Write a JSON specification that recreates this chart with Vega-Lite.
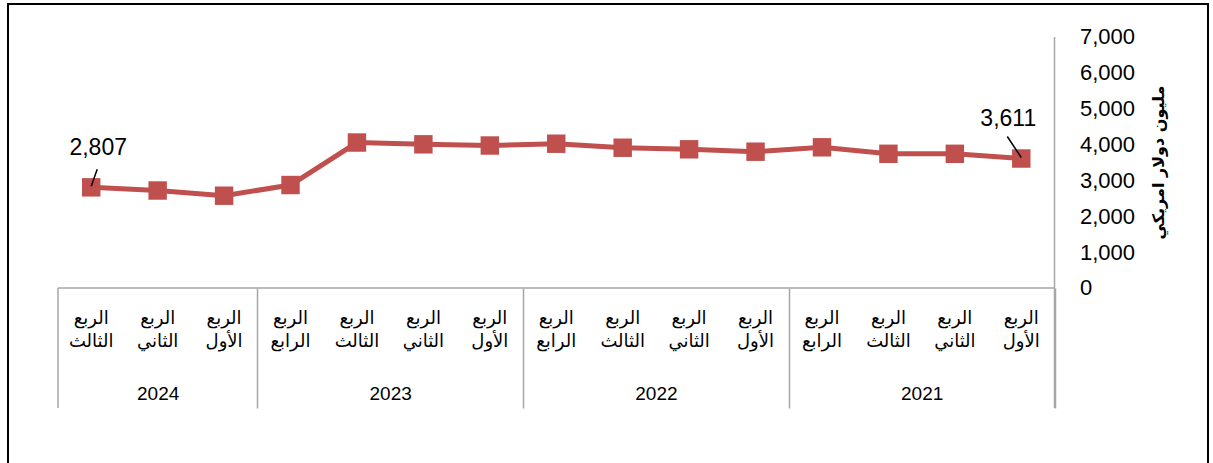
{
  "$schema": "https://vega.github.io/schema/vega-lite/v6.json",
  "width": 1200,
  "height": 466,
  "autosize": {"type": "none"},
  "padding": {"left": 8, "top": 4, "right": 5, "bottom": 0},
  "background": "white",
  "config": {
    "view": {"stroke": "black", "strokeWidth": 2},
    "font": "Liberation Sans"
  },
  "data": {
    "values": [
      {"k": "2024|الثالث", "value": 2807},
      {"k": "2024|الثاني", "value": 2719},
      {"k": "2024|الأول", "value": 2574},
      {"k": "2023|الرابع", "value": 2872},
      {"k": "2023|الثالث", "value": 4057},
      {"k": "2023|الثاني", "value": 4007},
      {"k": "2023|الأول", "value": 3974},
      {"k": "2022|الرابع", "value": 4024},
      {"k": "2022|الثالث", "value": 3912},
      {"k": "2022|الثاني", "value": 3868},
      {"k": "2022|الأول", "value": 3801},
      {"k": "2021|الرابع", "value": 3924},
      {"k": "2021|الثالث", "value": 3742},
      {"k": "2021|الثاني", "value": 3742},
      {"k": "2021|الأول", "value": 3611}
    ]
  },
  "layer": [
    {
      "data": {"values": [{}]},
      "mark": {"type": "rule", "color": "#A6A6A6", "strokeWidth": 1.5},
      "encoding": {
        "x": {"datum": "2024|الثالث", "type": "nominal", "bandPosition": 0, "axis": null},
        "x2": {"datum": "2021|الأول", "bandPosition": 1},
        "y": {"datum": 0, "type": "quantitative", "axis": null}
      }
    },
    {
      "data": {"values": [{}]},
      "mark": {"type": "rule", "color": "#A6A6A6", "strokeWidth": 1.5},
      "encoding": {
        "x": {"datum": "2021|الأول", "type": "nominal", "bandPosition": 1, "axis": null},
        "y": {"datum": 7000, "type": "quantitative", "axis": null},
        "y2": {"datum": -3347}
      }
    },
    {
      "data": {"values": [{}]},
      "mark": {"type": "rule", "color": "#A6A6A6", "strokeWidth": 1.5},
      "encoding": {
        "x": {"datum": "2024|الثالث", "type": "nominal", "bandPosition": 0, "axis": null},
        "y": {"datum": 0, "type": "quantitative", "axis": null},
        "y2": {"datum": -3347}
      }
    },
    {
      "mark": {"type": "line", "color": "#C0504D", "strokeWidth": 5},
      "encoding": {
        "x": {
          "field": "k",
          "type": "nominal",
          "sort": null,
          "scale": {
            "domain": ["2024|الثالث", "2024|الثاني", "2024|الأول", "2023|الرابع", "2023|الثالث", "2023|الثاني", "2023|الأول", "2022|الرابع", "2022|الثالث", "2022|الثاني", "2022|الأول", "2021|الرابع", "2021|الثالث", "2021|الثاني", "2021|الأول"],
            "paddingInner": 0,
            "paddingOuter": 0,
            "range": [50, 1046.5]
          },
          "axis": {
            "orient": "bottom",
            "offset": -182,
            "title": null,
            "domain": false,
            "ticks": false,
            "tickSize": 0,
            "grid": false,
            "labelAngle": 0,
            "labelOverlap": false,
            "labelBound": false,
            "labelFlush": false,
            "labelExpr": "['الربع', split(datum.value, '|')[1]]",
            "labelFont": "DejaVu Sans",
            "labelFontSize": 18,
            "labelLineHeight": 23,
            "labelColor": "black",
            "labelBaseline": "top",
            "labelPadding": 21
          }
        },
        "y": {
          "field": "value",
          "type": "quantitative",
          "scale": {"domain": [-5075.7, 7920.3], "nice": false, "zero": false},
          "axis": {
            "orient": "right",
            "offset": -153.5,
            "values": [0, 1000, 2000, 3000, 4000, 5000, 6000, 7000],
            "format": ",d",
            "domain": false,
            "ticks": false,
            "tickSize": 0,
            "grid": false,
            "labelPadding": 25,
            "labelFontSize": 22,
            "labelColor": "black",
            "labelFont": "Liberation Sans",
            "title": "مليون دولار امريكي",
            "titleAngle": 270,
            "titleX": 104,
            "titleY": 158,
            "titleAlign": "center",
            "titleBaseline": "middle",
            "titleFont": "DejaVu Sans",
            "titleFontSize": 16,
            "titleFontWeight": "bold",
            "titleColor": "black"
          }
        }
      }
    },
    {
      "mark": {"type": "point", "shape": "square", "filled": true, "size": 340, "color": "#C0504D", "opacity": 1},
      "encoding": {
        "x": {
          "field": "k",
          "type": "nominal",
          "sort": null,
          "axis": {
            "orient": "bottom",
            "offset": -182,
            "title": null,
            "domain": false,
            "grid": false,
            "ticks": true,
            "tickBand": "extent",
            "tickSize": 120,
            "tickColor": "#A6A6A6",
            "tickWidth": 1.5,
            "tickOpacity": {
              "condition": {"test": "split(datum.value, '|')[1] == 'الأول'", "value": 1},
              "value": 0
            },
            "labelAngle": 0,
            "labelOverlap": false,
            "labelBound": false,
            "labelFlush": false,
            "labelExpr": "split(datum.value, '|')[1] == 'الثاني' ? split(datum.value, '|')[0] : ''",
            "labelOffset": {
              "condition": {"test": "datum.value == '2024|الثاني'", "value": 0},
              "value": -33.2
            },
            "labelFont": "Liberation Sans",
            "labelFontSize": 19,
            "labelColor": "black",
            "labelBaseline": "middle",
            "labelPadding": -15
          }
        },
        "y": {"field": "value", "type": "quantitative", "axis": null}
      }
    },
    {
      "transform": [{"filter": "datum.k == '2024|الثالث'"}],
      "mark": {"type": "rule", "color": "black", "strokeWidth": 1.5, "xOffset": 0, "yOffset": -1, "x2Offset": 6, "y2Offset": -18},
      "encoding": {
        "x": {"field": "k", "type": "nominal", "axis": null},
        "x2": {"field": "k"},
        "y": {"field": "value", "type": "quantitative", "axis": null},
        "y2": {"field": "value"}
      }
    },
    {
      "transform": [{"filter": "datum.k == '2021|الأول'"}],
      "mark": {"type": "rule", "color": "black", "strokeWidth": 1.5, "xOffset": 0, "yOffset": -1, "x2Offset": -14, "y2Offset": -22},
      "encoding": {
        "x": {"field": "k", "type": "nominal", "axis": null},
        "x2": {"field": "k"},
        "y": {"field": "value", "type": "quantitative", "axis": null},
        "y2": {"field": "value"}
      }
    },
    {
      "transform": [{"filter": "datum.k == '2024|الثالث'"}],
      "mark": {"type": "text", "font": "Liberation Sans", "fontSize": 23, "color": "black", "align": "center", "baseline": "middle", "dx": 7, "dy": -39},
      "encoding": {
        "x": {"field": "k", "type": "nominal", "axis": null},
        "y": {"field": "value", "type": "quantitative", "axis": null},
        "text": {"field": "value", "type": "quantitative", "format": ","}
      }
    },
    {
      "transform": [{"filter": "datum.k == '2021|الأول'"}],
      "mark": {"type": "text", "font": "Liberation Sans", "fontSize": 23, "color": "black", "align": "center", "baseline": "middle", "dx": -13, "dy": -40},
      "encoding": {
        "x": {"field": "k", "type": "nominal", "axis": null},
        "y": {"field": "value", "type": "quantitative", "axis": null},
        "text": {"field": "value", "type": "quantitative", "format": ","}
      }
    }
  ],
  "resolve": {"axis": {"x": "independent", "y": "independent"}}
}
